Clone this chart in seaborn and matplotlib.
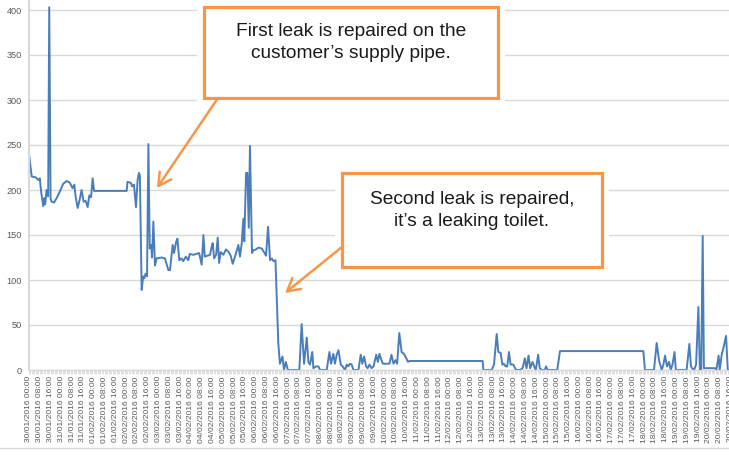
import numpy as np
import pandas as pd
import matplotlib
matplotlib.use("Agg")
import matplotlib.pyplot as plt
from matplotlib.patches import Rectangle, FancyArrowPatch
from matplotlib.ticker import MultipleLocator
import seaborn as sns

# --- dados (horas desde 30/01/2016 00:00, consumo) ---
horas = [0, 2, 5, 7, 8, 9, 10.6, 11.4, 12, 13, 14.2, 15, 16, 16.8, 18.5, 20.5, 22.8,
         25.4, 27.9, 30.3, 32.3, 33.6, 34.5, 36.1, 37.8, 39, 40.5, 42, 43.5, 44.7, 46,
         47.2, 48.2, 72.4, 73, 75.5, 76.5, 77.8, 79.3, 80.5, 81.5, 82.2, 83.5, 84.7,
         85.5, 86.4, 87.5, 88.5, 89.5, 90.5, 91.2, 92.2, 93.4, 94.6, 98.3, 100.8,
         103.3, 104.5, 106.5, 107.5, 109, 110, 111.4, 113, 114.3, 116.3, 118, 119.2,
         121.7, 124.2, 126.1, 128, 129.3, 130.3, 132.2, 134.2, 135.4, 136.2, 137.2,
         138.7, 139.9, 140.9, 142.1, 144.1, 146, 148, 149.5, 151, 152.7, 155.2, 156.4,
         157.7, 158.9, 159.6, 160.9, 161.9, 162.9, 163.8, 165.3, 166.3, 168.3, 170,
         172.5, 174.2, 175.7, 177.2, 178.7, 180, 181.2, 182.7, 183.6, 184.8, 186,
         187.9, 189, 190.4, 191.9, 200.4, 202.1, 203.9, 205.9, 207.1, 208.3, 210,
         210.8, 212.8, 214.5, 215.8, 220.7, 222.7, 223.9, 225.6, 226.8, 228.1, 229.4,
         231.1, 232.5, 234.3, 235.5, 236.7, 238, 239.2, 240.5, 244.2, 245.9, 247.1,
         248.4, 249.9, 251, 252.4, 253.9, 255.4, 257.4, 258.6, 259.8, 261, 262.3,
         267.2, 268.7, 270.2, 271.7, 272.9, 274.5, 276.2, 277.9, 279.4, 280.9, 282.1,
         336.3, 336.8, 343, 344.7, 346.7, 347.9, 349.6, 350.9, 352, 353.3, 354.5,
         355.8, 357, 359, 361, 364, 365.9, 367.6, 368.8, 370.3, 371.5, 373.2, 374.5,
         375.7, 377.4, 378.6, 380.3, 382.3, 383.3, 384.5, 391.6, 393.6, 455.4, 456.6,
         463.3, 465.3, 467, 469, 470.3, 471.5, 473, 474.5, 475.7, 477, 478.5, 479.5,
         487.5, 489.5, 490.7, 491.5, 493, 494.5, 496.2, 497.3, 498.3, 499.4, 500.3,
         508.5, 509.5, 511.2, 512, 513.5, 515, 516.7, 518, 519]
consumo = [240, 215, 214, 211, 213, 198, 182, 191, 184, 200, 193, 403, 190, 187, 186,
           191, 198, 207, 210, 208, 202, 206, 193, 180, 191, 200, 187, 188, 181, 194,
           192, 213, 199, 199, 209, 208, 204, 206, 181, 211, 219, 216, 89, 104, 102,
           107, 104, 251, 135, 139, 125, 165, 116, 124, 125, 124, 111, 111, 139, 130,
           142, 146, 122, 124, 121, 126, 122, 129, 128, 129, 130, 117, 150, 126, 127,
           128, 137, 141, 124, 128, 147, 119, 131, 128, 134, 131, 127, 118, 126, 139,
           126, 141, 168, 143, 219, 219, 158, 249, 130, 133, 134, 136, 135, 131, 127,
           159, 122, 124, 121, 122, 81, 30, 7, 15, 0, 9, 0, 0, 51, 7, 36, 9, 6, 20, 2,
           4, 4, 0, 0, 20, 7, 18, 7, 17, 22, 6, 4, 0, 6, 4, 7, 6, 0, 0, 17, 7, 15, 4,
           2, 6, 2, 4, 17, 9, 18, 12, 7, 7, 17, 7, 11, 7, 41, 20, 18, 14, 9, 10, 10, 0,
           0, 6, 40, 20, 19, 6, 7, 4, 4, 20, 6, 6, 0, 0, 2, 13, 2, 16, 2, 9, 4, 0, 17,
           2, 0, 0, 4, 0, 0, 21, 21, 0, 0, 30, 11, 0, 6, 16, 4, 9, 0, 6, 20, 0, 0, 29,
           4, 2, 0, 6, 70, 0, 0, 149, 2, 2, 0, 16, 0, 17, 26, 38, 0, 0]

# rótulos do eixo x a cada 8 horas
datas = pd.date_range("2016-01-30 00:00", "2016-02-20 16:00", freq="8h")
rotulos_x = [d.strftime("%d/%m/%Y %H:%M") for d in datas]
posicoes_x = [i * 8 for i in range(len(rotulos_x))]
ticks_y = [0, 50, 100, 150, 200, 250, 300, 350, 400]

texto_1 = "First leak is repaired on the\ncustomer\u2019s supply pipe."
texto_2 = "Second leak is repaired,\nit\u2019s a leaking toilet."

W, H = 729, 459
LARANJA = "#F79646"
CINZA = "#D9D9D9"

sns.set_theme(style="white")
plt.rcParams["font.family"] = ["Liberation Sans", "DejaVu Sans"]

fig = plt.figure(figsize=(W / 100, H / 100), dpi=100)
fig.patch.set_facecolor("white")

# eixo maior que a figura: o gráfico original está recortado no topo e à direita
x_esq, x_dir = 29, 29 + 528 * 1.349
y_zero, y_topo = 370, 370 - 450 * 0.9
ax = fig.add_axes([x_esq / W, 1 - y_zero / H, (x_dir - x_esq) / W, (y_zero - y_topo) / H])

sns.lineplot(x=horas, y=consumo, ax=ax, color="#4A7EBB", linewidth=1.4,
             sort=False, estimator=None)

ax.set_xlim(0, 528)
ax.set_ylim(0, 450)
ax.set_yticks(ticks_y)
ax.set_xticks(posicoes_x)
ax.set_xticklabels(rotulos_x, rotation=90, fontsize=6.1, color="#595959")
ax.set_yticklabels([str(t) for t in ticks_y], fontsize=6.6, color="#595959")
ax.xaxis.set_minor_locator(MultipleLocator(1))
ax.tick_params(axis="x", which="both", length=3, width=0.6, color=CINZA, pad=1.5,
               bottom=True)
ax.tick_params(axis="y", length=0, pad=5)
ax.grid(axis="y", color=CINZA, linewidth=1)
ax.set_axisbelow(True)
for lado in ["top", "right"]:
    ax.spines[lado].set_visible(False)
ax.spines["left"].set_color(CINZA)
ax.spines["left"].set_linewidth(1.5)
ax.spines["bottom"].set_color(CINZA)
ax.spines["bottom"].set_linewidth(1)
ax.set_xlabel("")
ax.set_ylabel("")


def px(x, y):
    return (x / W, 1 - y / H)


def caixa(x0, y0, x1, y1):
    # margem branca que esconde as linhas de grade
    fig.patches.append(Rectangle(px(x0 - 7, y1 + 6), (x1 - x0 + 14) / W,
                                 (y1 - y0 + 12) / H, transform=fig.transFigure,
                                 facecolor="white", edgecolor="none", zorder=3))
    fig.patches.append(Rectangle(px(x0, y1), (x1 - x0) / W, (y1 - y0) / H,
                                 transform=fig.transFigure, facecolor="white",
                                 edgecolor=LARANJA, linewidth=2.3, zorder=4))


def seta(x0, y0, x1, y1):
    fig.patches.append(FancyArrowPatch(px(x0, y0), px(x1, y1), transform=fig.transFigure,
                                       arrowstyle="->,head_length=0.9,head_width=0.5",
                                       mutation_scale=10, color=LARANJA, lw=1.8,
                                       shrinkA=0, shrinkB=0, zorder=5))


caixa(204, 7, 498, 98)
caixa(342, 173, 602, 267)
fig.text(351 / W, 1 - 42.5 / H, texto_1, ha="center", va="center", fontsize=13.8,
         color="#1A1A1A", linespacing=1.35, zorder=6)
fig.text(472 / W, 1 - 210.5 / H, texto_2, ha="center", va="center", fontsize=13.8,
         color="#1A1A1A", linespacing=1.35, zorder=6)
seta(218, 98, 157, 188)
seta(342, 247, 285, 293)

# borda inferior do gráfico
fig.add_artist(plt.Line2D([0, 1], [1 - 448 / H, 1 - 448 / H], transform=fig.transFigure,
                          color=CINZA, linewidth=1))

fig.savefig("out.png", dpi=100)
